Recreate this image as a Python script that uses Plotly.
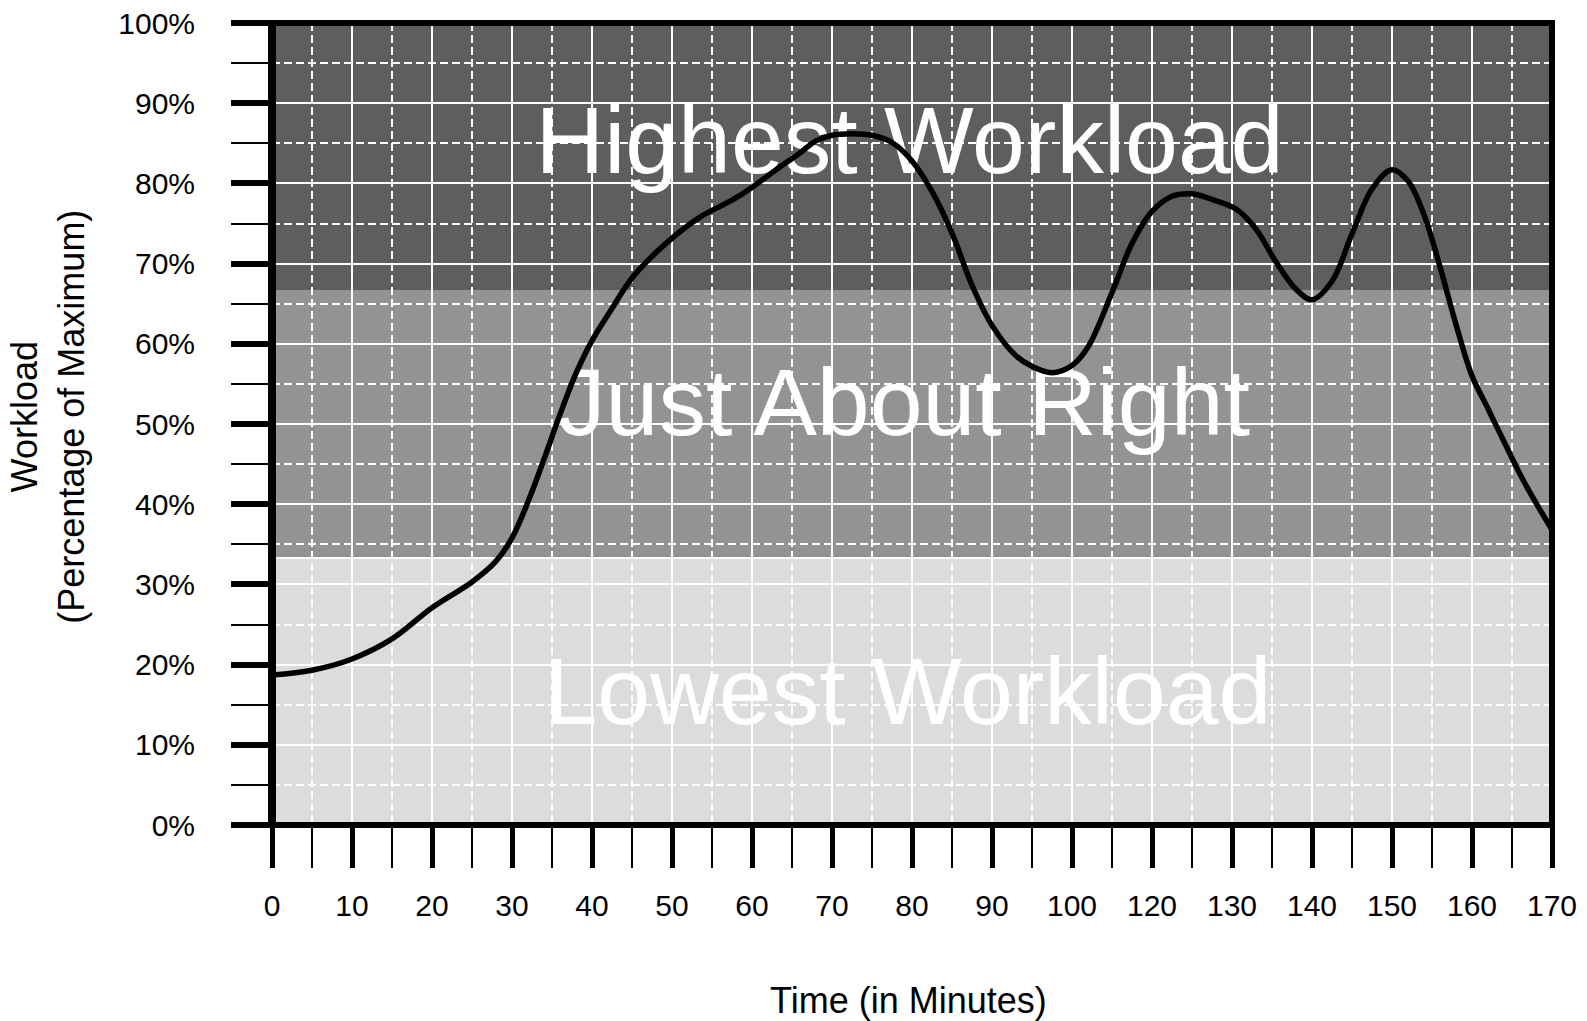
import plotly.graph_objects as go

# ---- data (x positions on the evenly spaced time axis; labels skip "110" as in the source) ----
x_pos = [0, 5, 10, 15, 20, 25, 28, 30, 32, 34, 36, 38, 40, 42.5, 45, 49, 53.5, 57.5, 60, 63,
         66, 68, 70, 72.5, 75, 77.5, 80, 82.5, 85, 87.5, 90, 93, 95, 97.5, 100, 102, 105,
         107.5, 110, 112.5, 115, 117.5, 120.5, 123, 125.5, 128, 130, 132.5, 135, 137.5, 140,
         142, 144, 146, 148, 150, 152, 154, 156.5, 160]
workload = [18.7, 19.3, 20.7, 23.2, 27.1, 30.3, 32.9, 35.8, 40.3, 45.6, 51.2, 56.3, 60.4, 64.4,
            68.2, 72.3, 75.8, 77.9, 79.5, 81.7, 83.8, 85.3, 86.0, 86.2, 86.0, 85.1, 82.8, 79.0,
            73.8, 67.3, 62.3, 58.5, 57.2, 56.4, 57.3, 59.6, 66.4, 72.5, 76.5, 78.4, 78.7, 78.0,
            76.8, 74.3, 70.2, 66.8, 65.5, 67.8, 73.7, 79.3, 81.7, 80.3, 76.1, 69.6, 62.4, 56.0,
            51.9, 47.8, 42.8, 36.8]

x_tick_pos = [0, 10, 20, 30, 40, 50, 60, 70, 80, 90, 100, 110, 120, 130, 140, 150, 160]
x_tick_labels = ["0", "10", "20", "30", "40", "50", "60", "70", "80", "90", "100",
                 "120", "130", "140", "150", "160", "170"]
x_minor_pos = [5, 15, 25, 35, 45, 55, 65, 75, 85, 95, 105, 115, 125, 135, 145, 155]
y_tick_vals = [0, 10, 20, 30, 40, 50, 60, 70, 80, 90, 100]
y_tick_labels = ["0%", "10%", "20%", "30%", "40%", "50%", "60%", "70%", "80%", "90%", "100%"]
y_minor_vals = [5, 15, 25, 35, 45, 55, 65, 75, 85, 95]

band_edges = [0, 33.3, 66.7, 100]
band_colors = ["#DCDCDC", "#939393", "#5E5E5E"]
band_names = ["Lowest Workload", "Just About Right", "Highest Workload"]
band_label_x = [79.5, 79.0, 79.7]
band_label_y = [15.6, 51.6, 84.2]

FONT = "Liberation Sans, Arial, sans-serif"

fig = go.Figure()

# band labels (drawn as a trace so the curve sits over them)
fig.add_trace(go.Scatter(
    x=band_label_x, y=band_label_y, mode="text", text=band_names,
    textposition="middle center", cliponaxis=False, hoverinfo="skip",
    textfont=dict(family=FONT, size=95, color="white"),
))

# workload curve
fig.add_trace(go.Scatter(
    x=x_pos, y=workload, mode="lines",
    line=dict(color="black", width=5.5, shape="spline", smoothing=1.0),
    hoverinfo="skip",
))

shapes = []
for i in range(len(band_colors)):
    shapes.append(dict(type="rect", xref="x", yref="y",
                       x0=x_tick_pos[0], x1=x_tick_pos[-1],
                       y0=band_edges[i], y1=band_edges[i + 1],
                       fillcolor=band_colors[i], line=dict(width=0), layer="below"))
shapes.append(dict(type="line", xref="x", yref="y",
                   x0=x_tick_pos[0], x1=x_tick_pos[-1], y0=band_edges[1], y1=band_edges[1],
                   line=dict(color="white", width=2), layer="below"))
# frame
shapes.append(dict(type="rect", xref="paper", yref="paper", x0=0, x1=1, y0=0, y1=1,
                   line=dict(color="black", width=6), fillcolor="rgba(0,0,0,0)", layer="above"))
shapes.append(dict(type="line", xref="paper", yref="paper", x0=0, x1=0, y0=0, y1=1,
                   line=dict(color="black", width=8), layer="above"))

fig.update_layout(
    width=1587, height=1021,
    margin=dict(l=272, r=35, t=23, b=196),
    paper_bgcolor="white", plot_bgcolor="white",
    showlegend=False,
    font=dict(family=FONT, color="black"),
    shapes=shapes,
    xaxis=dict(
        range=[x_tick_pos[0], x_tick_pos[-1]],
        automargin=False, ticklabeloverflow="allow",
        tickmode="array", tickvals=x_tick_pos, ticktext=x_tick_labels,
        ticks="outside", ticklen=42, tickwidth=5, tickcolor="black",
        ticklabelstandoff=12,
        tickfont=dict(family=FONT, size=30, color="black"),
        showline=False, zeroline=False,
        showgrid=True, gridcolor="white", gridwidth=2,
        minor=dict(tickmode="array", tickvals=x_minor_pos, ticks="outside",
                   ticklen=42, tickwidth=2, tickcolor="black",
                   showgrid=True, gridcolor="white", gridwidth=2, griddash="8px,4px"),
        fixedrange=True,
    ),
    yaxis=dict(
        range=[y_tick_vals[0], y_tick_vals[-1]],
        automargin=False, ticklabeloverflow="allow",
        tickmode="array", tickvals=y_tick_vals, ticktext=y_tick_labels,
        ticks="outside", ticklen=40, tickwidth=6, tickcolor="black",
        ticklabelstandoff=30,
        tickfont=dict(family=FONT, size=30, color="black"),
        showline=False, zeroline=False,
        showgrid=True, gridcolor="white", gridwidth=2,
        minor=dict(tickmode="array", tickvals=y_minor_vals, ticks="outside",
                   ticklen=40, tickwidth=2, tickcolor="black",
                   showgrid=True, gridcolor="white", gridwidth=2, griddash="8px,4px"),
        fixedrange=True,
    ),
    annotations=[
        dict(text="Time (in Minutes)", xref="paper", yref="paper", x=0.497, y=-0.219,
             xanchor="center", yanchor="middle", showarrow=False,
             font=dict(family=FONT, size=36, color="black")),
        dict(text="Workload<br>(Percentage of Maximum)", xref="paper", yref="paper",
             x=-0.175, y=0.509, xanchor="center", yanchor="middle", showarrow=False,
             textangle=-90, font=dict(family=FONT, size=36, color="black")),
    ],
)

fig.write_html("out.html", config={"displayModeBar": False},
               post_script="document.body.style.margin='0px';")
